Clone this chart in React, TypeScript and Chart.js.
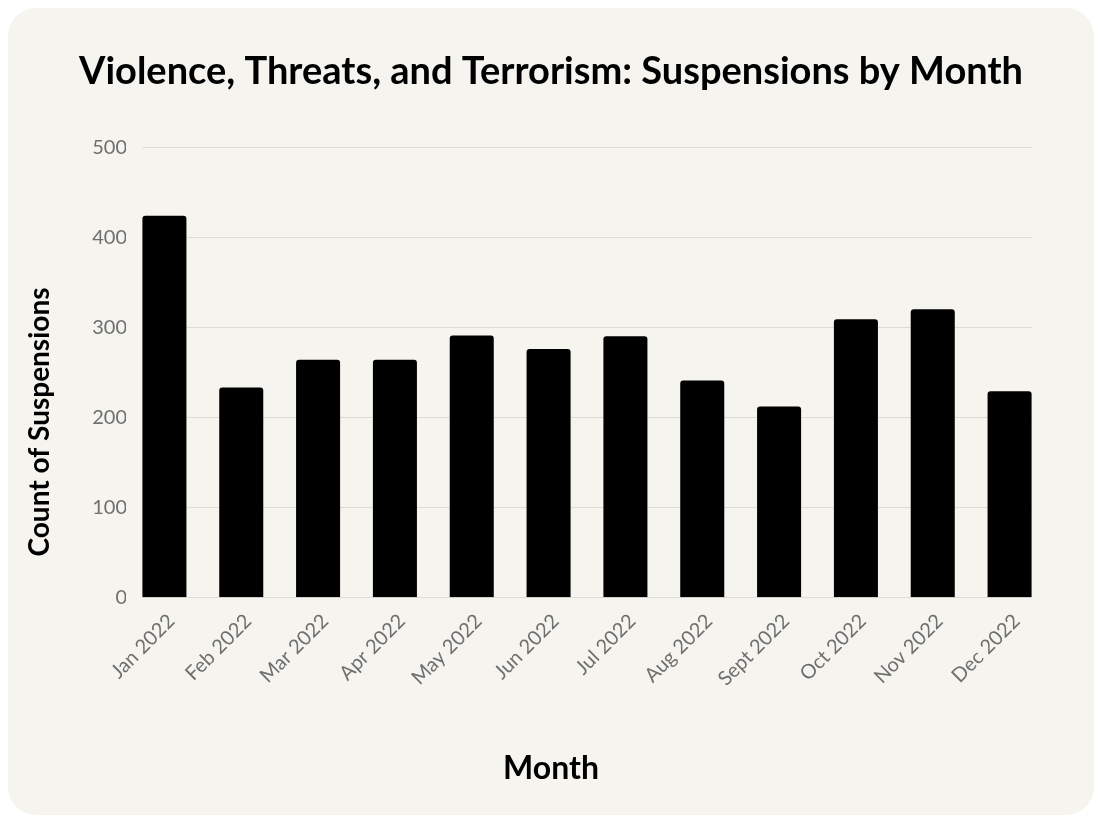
import React, { useEffect, useRef } from "react";
import { Chart, registerables } from "chart.js";

Chart.register(...registerables);

const months = [
  "Jan 2022", "Feb 2022", "Mar 2022", "Apr 2022", "May 2022", "Jun 2022",
  "Jul 2022", "Aug 2022", "Sept 2022", "Oct 2022", "Nov 2022", "Dec 2022",
];
const suspensions = [424, 233, 264, 264, 291, 276, 290, 241, 212, 309, 320, 229];
const yTicks = [0, 100, 200, 300, 400, 500];

const chartTitle = "Violence, Threats, and Terrorism: Suspensions by Month";
const xTitle = "Month";
const yTitle = "Count of Suspensions";

const FONT = "Lato, 'Noto Sans', sans-serif";

const gridPlugin = {
  id: "barSpanGrid",
  beforeDatasetsDraw(chart: any) {
    const { ctx, scales } = chart;
    const ys = scales.y;
    const bars = chart.getDatasetMeta(0).data;
    if (!bars.length) return;
    const first = bars[0];
    const last = bars[bars.length - 1];
    const x0 = first.x - first.width / 2;
    const x1 = last.x + last.width / 2;
    ctx.save();
    ctx.strokeStyle = "#dedcd7";
    ctx.lineWidth = 1;
    ys.ticks.forEach((t: any) => {
      const y = Math.round(ys.getPixelForValue(t.value)) + 0.5;
      ctx.beginPath();
      ctx.moveTo(x0, y);
      ctx.lineTo(x1, y);
      ctx.stroke();
    });
    ctx.restore();
  },
};

const titlesPlugin = {
  id: "titles",
  afterDraw(chart: any) {
    const { ctx, width } = chart;
    ctx.save();
    ctx.fillStyle = "#000";
    ctx.textAlign = "center";
    ctx.textBaseline = "middle";
    // main title, centred on the card
    ctx.font = `bold 38px ${FONT}`;
    ctx.fillText(chartTitle, width / 2, 64);
    // x-axis title, centred on the card
    ctx.font = `bold 32px ${FONT}`;
    ctx.fillText(xTitle, width / 2, 761);
    // y-axis title
    ctx.translate(32, 414);
    ctx.rotate(-Math.PI / 2);
    ctx.font = `bold 28px ${FONT}`;
    ctx.fillText(yTitle, 0, 0);
    ctx.restore();
  },
};

export default function App() {
  const ref = useRef<HTMLCanvasElement | null>(null);

  useEffect(() => {
    if (!ref.current) return;
    const chart = new Chart(ref.current, {
      type: "bar",
      data: {
        labels: months,
        datasets: [
          {
            data: suspensions,
            backgroundColor: "#000000",
            borderRadius: { topLeft: 3, topRight: 3, bottomLeft: 0, bottomRight: 0 },
            borderSkipped: false,
            categoryPercentage: 1,
            barPercentage: 0.573,
          },
        ],
      },
      options: {
        animation: false,
        responsive: false,
        layout: { padding: { left: 0, right: 46, top: 139.3, bottom: 0 } },
        plugins: {
          legend: { display: false },
          tooltip: { enabled: false },
          title: { display: false },
        },
        scales: {
          x: {
            grid: { display: false, drawTicks: false },
            border: { display: false },
            ticks: {
              color: "#6f6f6f",
              font: { family: FONT, size: 20 },
              minRotation: 45,
              maxRotation: 45,
              padding: 12,
              labelOffset: 7,
              autoSkip: false,
            },
            afterFit(scale: any) {
              scale.height = 217.7;
            },
          },
          y: {
            min: 0,
            max: 500,
            afterBuildTicks(scale: any) {
              scale.ticks = yTicks.map((v) => ({ value: v }));
            },
            grid: { display: false, drawTicks: false },
            border: { display: false },
            ticks: {
              color: "#6f6f6f",
              font: { family: FONT, size: 20 },
              padding: -1,
            },
            afterFit(scale: any) {
              scale.width = 118;
            },
          },
        },
      },
      plugins: [gridPlugin, titlesPlugin],
    });
    return () => chart.destroy();
  }, []);

  return (
    <div
      style={{
        position: "absolute",
        left: 8,
        top: 8,
        width: 1086,
        height: 807,
        background: "#f5f4ef",
        borderRadius: 28,
        overflow: "hidden",
      }}
    >
      <canvas ref={ref} width={1086} height={807} style={{ display: "block" }} />
    </div>
  );
}
